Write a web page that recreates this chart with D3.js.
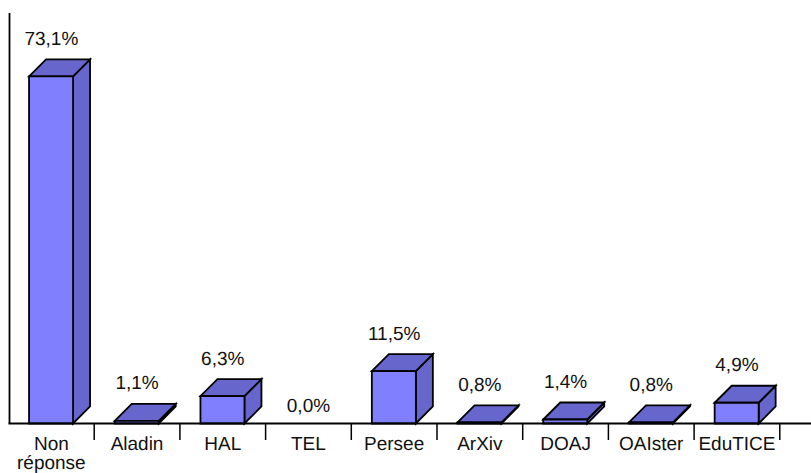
<!DOCTYPE html>
<html>
<head>
<meta charset="utf-8">
<script src="https://cdn.jsdelivr.net/npm/d3@7"></script>
<style>
html,body{margin:0;padding:0;background:#fff;overflow:hidden}
svg{display:block}
text{font-family:"Liberation Sans",Arial,sans-serif;font-size:19px;fill:#111;text-rendering:geometricPrecision}
</style>
</head>
<body>
<svg id="chart" width="811" height="473"></svg>
<script>
const categories = ["Non réponse","Aladin","HAL","TEL","Persee","ArXiv","DOAJ","OAIster","EduTICE"];
const percentValues = [73.1,1.1,6.3,0.0,11.5,0.8,1.4,0.8,4.9];
const valueLabels = ["73,1%","1,1%","6,3%","0,0%","11,5%","0,8%","1,4%","0,8%","4,9%"];

const width = 811, height = 473;
const baseY = 423.5, topY = 13, axisX = 9.5, bandW = 85.7, barW = 44, depth = 17;
const svg = d3.select("#chart");

const x = d3.scaleBand().domain(categories).range([8.5, 8.5 + bandW * categories.length]).paddingInner(0).paddingOuter(0);
const y = d3.scaleLinear().domain([0, 73.1]).range([426.2, 76.3]);

const g = svg.append("g");
const bars = g.selectAll("g.bar").data(categories.map((c,i)=>({c,v:percentValues[i],l:valueLabels[i]}))).join("g").attr("class","bar");
const left = d => x(d.c) + (x.bandwidth() - barW) / 2 - 0.3;
const top_ = d => Math.min(baseY, y(d.v));
const shown = bars.filter(d => d.v > 0);

const poly = (sel, fill, pts) => sel.append("path")
  .attr("d", d => "M" + pts(d).map(p => p.join(",")).join("L") + "Z")
  .attr("fill", fill).attr("stroke", "#000").attr("stroke-width", 1.8).attr("stroke-linejoin","miter");

poly(shown, "#6666cc", d => { const l=left(d), t=top_(d); return [[l+barW,t],[l+barW+depth,t-depth],[l+barW+depth,baseY-depth],[l+barW,baseY]]; });
poly(shown, "#6666cc", d => { const l=left(d), t=top_(d); return [[l,t],[l+depth,t-depth],[l+barW+depth,t-depth],[l+barW,t]]; });
poly(shown, "#8080ff", d => { const l=left(d), t=top_(d); return [[l,t],[l+barW,t],[l+barW,baseY],[l,baseY]]; });

bars.append("text")
  .attr("text-anchor","middle")
  .attr("x", d => x(d.c) + x.bandwidth()/2)
  .attr("y", d => d.v > 0 ? top_(d) - depth - 14.5 : baseY - 12)
  .text(d => d.l);

// axes
const axisBottom = d3.axisBottom(x).tickSize(0).tickFormat("");
const ax = svg.append("g").attr("transform", `translate(0,${baseY})`).call(axisBottom);
ax.select(".domain").remove();
ax.selectAll(".tick").remove();
ax.append("line").attr("x1", axisX-1).attr("x2", width).attr("y1",0).attr("y2",0).attr("stroke","#000").attr("stroke-width",1.8);
ax.selectAll("line.t").data(categories).join("line").attr("class","t")
  .attr("x1", d => x(d)+bandW).attr("x2", d => x(d)+bandW)
  .attr("y1",0).attr("y2",16.5).attr("stroke","#000").attr("stroke-width",1.5);

svg.append("line").attr("x1",axisX).attr("x2",axisX).attr("y1",topY).attr("y2",baseY).attr("stroke","#000").attr("stroke-width",1.8);

const labels = svg.selectAll("text.cat").data(categories).join("text").attr("class","cat")
  .attr("text-anchor","middle")
  .attr("y", 450);
labels.each(function(d){
  const t = d3.select(this), cx = x(d)+bandW/2;
  d.split(" ").forEach((w,i)=> t.append("tspan").attr("x",cx).attr("dy", i?19:0).text(w));
});
</script>
</body>
</html>
